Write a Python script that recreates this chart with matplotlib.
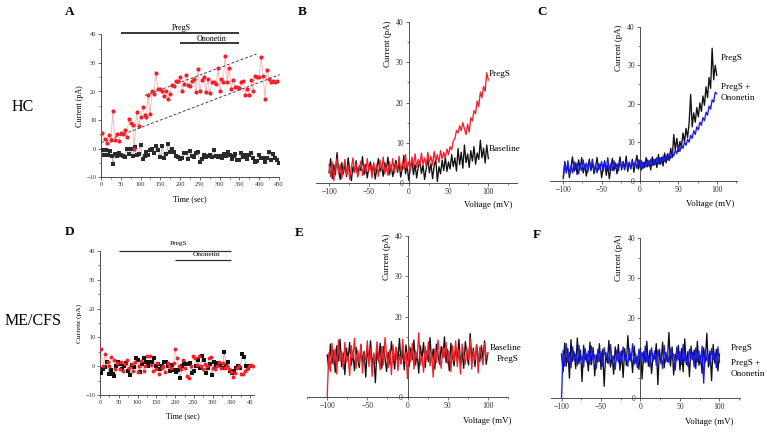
import numpy as np
import matplotlib
matplotlib.use("Agg")
import matplotlib.pyplot as plt
from matplotlib.ticker import MultipleLocator, FixedLocator

plt.rcParams['font.family'] = ['Liberation Serif', 'DejaVu Serif']

# ---------------- data ----------------
# Panel A (HC) time course
a_red_t = [3, 10, 15, 20, 25, 30, 35, 40, 45, 51, 55, 60, 65, 70, 75, 80, 84, 90, 95, 100,
           105, 110, 115, 119, 124, 129, 134, 139, 144, 149, 154, 159, 164, 169, 174, 179,
           184, 190, 195, 200, 205, 210, 215, 220, 225, 230, 235, 240, 245, 250, 255, 260,
           265, 270, 275, 281, 286, 291, 296, 301, 304, 309, 314, 319, 324, 329, 334, 339,
           345, 350, 355, 360, 365, 370, 375, 380, 385, 390, 395, 400, 405, 410, 415, 420,
           425, 430, 435, 440, 445]
a_red_i = [5.6, 3.3, 2.1, 4.7, 3.0, 13.2, 3.0, 5.0, 2.6, 5.4, 5.0, 6.6, 4.2, 10.3, 8.9, 8.4,
           -0.2, 13.0, 8.1, 11.0, 14.6, 11.7, 11.0, 18.7, 12.0, 20.1, 19.0, 26.6, 20.9, 21.0,
           20.0, 18.6, 20.3, 17.4, 19.1, 22.2, 22.0, 23.7, 23.5, 25.1, 20.3, 22.5, 25.9, 22.2,
           21.9, 23.8, 24.4, 19.7, 27.9, 20.0, 24.0, 25.2, 19.8, 24.4, 19.4, 23.3, 23.2, 22.6,
           28.1, 20.1, 24.3, 23.2, 32.5, 23.2, 28.3, 20.8, 24.0, 21.5, 21.5, 21.1, 23.3, 23.8,
           18.8, 21.0, 18.8, 23.9, 20.0, 25.4, 25.2, 25.2, 32.2, 25.4, 17.3, 27.5, 24.4, 23.3,
           23.6, 23.2, 23.8]
a_blk_t = [3, 8, 13, 18, 23, 28, 30, 35, 40, 45, 50, 55, 60, 65, 70, 75, 80, 85, 90, 95, 100,
           105, 110, 115, 120, 125, 130, 135, 140, 145, 150, 155, 160, 165, 170, 175, 180, 185,
           190, 195, 200, 205, 210, 215, 220, 225, 230, 235, 240, 245, 250, 255, 260, 265, 270,
           275, 280, 285, 290, 295, 300, 305, 310, 315, 320, 325, 330, 335, 340, 345, 350, 355,
           360, 365, 370, 375, 380, 385, 390, 395, 400, 405, 410, 415, 420, 425, 430, 435, 440,
           445, 450]
a_blk_i = [-0.3, -2.2, -0.5, -2.2, -0.8, -2.4, -5.4, -1.9, -2.5, -1.6, -2.2, -2.7, -3.0, 0.0,
           -1.8, 0.0, -2.5, 0.5, -2.2, -1.7, 1.2, -3.5, -2.7, -1.2, -2.2, -0.5, 0.0, -1.5, 0.9,
           -0.5, -2.8, 1.0, -3.2, -2.0, 1.6, -1.3, 0.0, -1.0, -2.5, -3.0, -3.5, -3.2, -1.5, -1.4,
           -3.6, -0.8, -2.4, -2.8, -1.6, -1.2, -4.8, -3.6, -2.2, -3.0, -2.5, -2.2, -3.0, -0.3,
           -2.5, -2.8, -2.6, -3.3, -1.9, -2.4, -1.0, -2.2, -3.6, -2.6, -1.8, -3.8, -3.9, -1.4,
           -3.0, -2.2, -3.5, -2.2, -1.5, -3.3, -4.5, -4.3, -2.1, -3.4, -3.1, -4.5, -3.4, -1.1,
           -4.1, -1.8, -3.2, -4.0, -5.0]
a_trend_upper_t = [111, 393]
a_trend_upper_i = [18.6, 33.1]
a_trend_lower_t = [0, 452]
a_trend_lower_i = [2.1, 25.9]

# Panel D (ME/CFS) time course
d_red_t = [3, 9, 14, 20, 25, 29, 36, 41, 46, 52, 57, 62, 67, 73, 78, 84, 89, 94, 100, 105,
           110, 116, 121, 126, 132, 137, 142, 148, 153, 158, 164, 169, 174, 180, 185, 190,
           196, 199, 204, 210, 215, 220, 226, 231, 236, 242, 247, 252, 258, 263, 268, 274,
           279, 284, 290, 295, 300, 306, 311, 316, 322, 327, 332, 338, 343, 348, 354, 359,
           364, 370, 375, 380, 386, 391, 396, 402, 407]
d_red_i = [5.8, -0.1, 4.4, 1.3, -0.1, 3.2, 2.2, -0.9, 1.0, -1.0, 1.6, -1.5, 0.7, 2.2, -0.6,
           0.8, -1.6, 1.3, -1.9, -0.1, 1.7, -1.7, 0.2, 3.4, 3.6, 0.3, -1.5, -0.8, 1.2, -2.7,
           -0.7, 0.1, -1.9, 1.0, -0.1, -0.7, 1.0, 5.8, 2.9, -0.1, -1.0, 2.2, -0.7, -3.4, -4.2,
           -0.1, 3.4, 2.7, 0.5, 3.4, -0.1, -1.0, 0.8, -0.1, 2.9, 3.1, -0.7, -1.0, -0.1, 1.3,
           -0.5, 1.0, -0.7, -0.1, -1.0, -1.9, -3.6, -2.2, -0.7, 0.1, -2.7, -2.7, -1.5, -1.0,
           -0.1, 0.5, 0.1]
d_blk_t = [3, 7, 12, 18, 23, 28, 34, 37, 43, 48, 53, 59, 64, 69, 75, 80, 85, 91, 96, 101,
           107, 112, 117, 123, 128, 133, 139, 144, 149, 155, 160, 165, 171, 176, 181, 187,
           192, 197, 203, 208, 213, 219, 224, 229, 234, 240, 245, 250, 256, 261, 267, 272,
           277, 283, 288, 293, 299, 304, 309, 315, 320, 325, 331, 336, 341, 347, 352, 357,
           363, 368, 373, 379, 384, 389, 395, 400]
d_blk_i = [-2.4, -1.0, -0.3, 1.6, -2.7, -1.3, -2.7, -3.4, -0.1, 1.5, 0.8, -0.8, -0.1, 1.0,
           -1.5, -3.0, 0.3, -0.3, 2.9, 2.2, -1.9, 0.6, 2.8, 1.3, -0.1, 1.6, 1.3, 2.9, -0.1,
           0.6, -1.0, -0.1, 1.3, 1.3, -0.1, -1.5, 0.3, -1.3, -2.0, -1.3, -4.2, -0.1, 1.0, 0.8,
           0.6, 1.0, -2.2, -1.5, -0.1, 2.2, -0.7, 3.4, 2.2, -2.4, -0.7, 0.6, -3.0, 1.6, -0.1,
           1.0, 0.3, -0.7, 5.0, -0.1, 1.6, -1.5, -2.2, -1.5, -0.7, -0.1, -0.7, 4.3, 3.1, -0.1,
           -0.7, -0.1]

# Drug application bars (start, end) in seconds
pregs_bar = [50, 350]
ononetin_bar = [200, 350]

# I-V traces, voltage ramp -100..100 mV
b_baseline = [2.5, 6.0, 1.0, 4.5, 2.0, 7.5, 3.0, 0.8, 5.0, 2.2, 4.8, 1.5, 6.2, 3.0, 0.5, 4.0,
              2.5, 5.5, 1.8, 4.2, 3.0, 6.5, 2.0, 4.5, 1.2, 3.8, 5.2, 2.4, 4.6, 0.9, 3.5, 6.0,
              2.8, 4.2, 1.6, 5.0, 3.2, 6.4, 2.0, 4.4, 1.5, 3.8, 5.6, 2.6, 4.9, 1.4, 3.6, 6.8,
              2.2, 4.5, 0.6, 3.4, 5.8, 2.0, 4.6, 1.2, 3.9, 5.4, 2.3, 4.4, 0.8, 3.5, 5.9, 2.5,
              4.8, 1.0, 4.2, 6.0, 0.3, 4.0, 2.2, 5.6, 3.0, 6.4, 2.8, 5.2, 3.4, 7.0, 4.0, 6.2,
              2.9, 8.5, 4.5, 7.6, 3.6, 9.4, 5.0, 7.2, 3.8, 8.0, 5.4, 9.0, 4.6, 7.4, 5.8, 10.6,
              6.2, 8.6, 4.9, 9.4, 6.0]
b_pregs = [4.5, 1.5, 5.2, 0.5, 3.8, 6.0, 2.2, 4.6, 1.0, 3.4, 5.8, 2.0, 4.4, 0.8, 3.6, 6.2,
           2.6, 4.8, 1.4, 3.2, 5.4, 1.8, 4.6, 2.4, 6.0, 3.0, 4.2, 1.2, 5.0, 2.8, 4.6, 1.6,
           5.6, 3.2, 6.4, 2.2, 4.0, 1.8, 5.2, 3.0, 6.0, 2.4, 4.8, 3.2, 6.6, 2.8, 5.0, 3.4,
           7.0, 3.6, 5.2, 3.0, 6.4, 4.0, 7.2, 3.8, 5.8, 4.2, 7.4, 4.6, 6.2, 4.0, 7.6, 5.0,
           6.6, 4.4, 7.8, 5.4, 7.0, 5.0, 8.0, 6.0, 7.6, 6.2, 8.4, 7.0, 9.0, 8.2, 10.4, 11.0,
           13.0, 12.4, 14.2, 13.0, 15.0, 13.4, 12.0, 14.6, 12.6, 16.2, 15.4, 18.0, 17.2, 20.4,
           19.0, 22.6, 21.2, 24.0, 22.8, 27.4, 25.6]
c_pregs = [1.0, 5.0, 2.0, 4.4, 0.8, 3.6, 6.2, 2.4, 4.6, 1.6, 5.4, 3.0, 6.0, 2.0, 4.2, 1.2,
           3.8, 5.6, 2.6, 4.8, 1.8, 3.4, 6.0, 2.8, 4.4, 0.8, 3.6, 5.2, 1.4, 4.0, 0.5, 3.2,
           5.8, 2.6, 4.6, 1.8, 4.0, 6.2, 2.8, 5.0, 3.0, 6.4, 2.4, 4.8, 3.2, 5.6, 2.2, 4.6,
           6.6, 3.0, 5.4, 2.8, 4.8, 3.4, 6.0, 3.6, 5.2, 2.8, 6.2, 4.0, 5.6, 3.4, 6.8, 4.2,
           6.0, 3.8, 7.2, 4.6, 7.0, 5.2, 8.4, 6.0, 12.0, 8.0, 11.0, 7.6, 10.2, 8.6, 12.4,
           10.0, 13.6, 11.2, 15.0, 22.4, 14.0, 17.6, 15.2, 19.0, 16.6, 20.2, 18.0, 22.0,
           19.6, 24.4, 21.6, 26.8, 24.0, 34.4, 26.2, 30.0, 27.4]
c_pregs_ononetin = [0.5, 4.4, 2.2, 5.2, 1.6, 3.8, 2.0, 5.0, 2.8, 4.6, 1.8, 4.0, 2.6, 5.4,
                    3.0, 4.6, 2.2, 4.8, 3.2, 5.6, 2.6, 4.2, 2.0, 4.4, 3.0, 5.0, 2.4, 4.6,
                    3.0, 6.0, 2.8, 4.4, 2.6, 5.2, 3.2, 4.4, 2.6, 5.0, 3.4, 4.6, 2.8, 5.0,
                    3.4, 4.8, 3.0, 5.2, 3.6, 5.0, 3.2, 5.4, 3.4, 5.2, 3.2, 4.8, 3.6, 5.4,
                    3.8, 5.6, 4.0, 5.6, 4.2, 6.0, 4.4, 6.0, 4.6, 6.4, 5.0, 6.6, 5.4, 7.0,
                    5.8, 7.4, 6.4, 8.0, 7.0, 8.6, 7.6, 9.2, 8.4, 10.0, 9.2, 10.8, 10.0, 11.8,
                    11.0, 13.0, 12.0, 14.0, 13.2, 15.2, 14.4, 16.4, 15.6, 17.8, 17.0, 19.4,
                    18.6, 21.0, 20.4, 23.0, 22.6]
e_baseline = [10.5, 7.0, 13.2, 8.4, 11.6, 6.2, 12.8, 9.0, 14.4, 7.6, 11.0, 5.6, 12.2, 9.4,
              13.6, 8.0, 10.8, 6.6, 12.4, 9.6, 7.4, 13.0, 8.6, 11.4, 5.0, 12.0, 9.2, 14.0,
              7.8, 10.6, 3.6, 11.8, 8.8, 13.4, 7.2, 12.6, 9.8, 6.4, 11.2, 8.2, 13.8, 10.2,
              7.0, 12.4, 9.0, 14.6, 8.4, 11.6, 6.8, 13.0, 10.0, 7.6, 12.2, 9.4, 14.2, 8.0,
              11.0, 6.0, 12.8, 9.6, 13.6, 7.4, 11.4, 8.8, 14.8, 9.2, 12.0, 7.0, 13.2, 10.4,
              8.2, 12.6, 9.8, 15.0, 8.6, 11.8, 6.6, 13.4, 10.2, 7.8, 12.4, 9.0, 14.4, 8.4,
              11.2, 7.2, 13.8, 10.6, 8.0, 15.8, 9.4, 12.2, 7.6, 13.0, 10.0, 8.8, 12.8, 9.6,
              14.0, 8.2, 11.0]
e_pregs = [0.0, 11.0, 6.4, 13.4, 8.2, 12.0, 5.8, 14.2, 9.0, 11.4, 7.0, 13.6, 8.8, 10.2, 5.4,
           12.8, 9.6, 14.6, 7.2, 11.6, 8.4, 13.2, 6.0, 10.8, 9.4, 14.0, 7.6, 12.2, 5.2, 11.0,
           8.6, 13.8, 9.8, 6.8, 12.6, 8.0, 14.8, 10.4, 7.4, 11.8, 5.6, 13.0, 9.2, 12.4, 6.6,
           10.6, 8.2, 14.4, 9.0, 11.2, 4.6, 12.8, 8.8, 13.4, 7.0, 11.6, 9.6, 16.0, 8.0, 10.2,
           6.2, 12.6, 9.4, 13.8, 7.8, 11.0, 5.0, 12.0, 8.6, 14.2, 9.8, 7.2, 12.4, 10.0, 13.6,
           8.4, 11.4, 6.4, 12.8, 9.0, 14.0, 7.6, 11.8, 5.8, 13.2, 10.6, 8.2, 12.2, 9.4, 14.6,
           7.0, 11.6, 9.2, 13.0, 6.0, 12.4, 10.2, 8.0, 13.4, 9.6, 11.0]
f_pregs = [11.0, 6.6, 13.8, 8.0, 12.4, 5.0, 14.6, 9.2, 11.6, 7.4, 15.0, 8.6, 12.0, 4.2, 13.2,
           9.6, 11.0, 6.8, 14.0, 8.4, 12.6, 5.6, 10.8, 9.0, 13.6, 7.2, 12.2, 3.0, 11.4, 8.8,
           14.4, 7.8, 10.6, 6.0, 12.8, 9.4, 13.4, 7.0, 11.8, 5.2, 12.4, 8.2, 15.6, 9.6, 11.2,
           6.4, 13.0, 8.8, 10.4, 7.2, 12.6, 4.8, 11.6, 9.0, 14.2, 8.0, 12.0, 6.2, 10.8, 9.8,
           13.6, 3.4, 12.2, 8.6, 14.0, 7.6, 11.4, 9.2, 16.4, 8.0, 12.8, 5.8, 11.0, 9.4, 13.2,
           7.0, 12.4, 6.6, 14.8, 8.4, 11.6, 5.4, 13.0, 9.6, 12.0, 7.4, 14.2, 8.2, 10.6, 6.2,
           12.6, 9.0, 16.2, 7.8, 11.8, 4.4, 13.4, 8.8, 12.2, 6.8, 11.0]
f_pregs_ononetin = [0.0, 12.0, 8.0, 13.6, 9.0, 11.4, 7.6, 12.8, 9.6, 11.0, 8.2, 13.2, 9.4,
                    10.6, 7.8, 12.4, 9.0, 11.8, 8.4, 13.0, 9.8, 10.8, 7.4, 12.2, 9.2, 11.6,
                    8.0, 12.6, 10.0, 11.2, 8.6, 13.4, 9.4, 10.4, 7.2, 12.0, 9.0, 11.6, 8.8,
                    12.8, 9.6, 10.2, 8.0, 12.4, 9.2, 13.6, 8.4, 11.0, 7.6, 12.2, 10.0, 11.4,
                    8.6, 13.0, 9.0, 10.6, 7.8, 12.6, 9.4, 11.8, 8.2, 12.0, 9.8, 10.8, 7.4,
                    13.2, 9.0, 11.2, 8.8, 12.4, 10.2, 11.0, 7.0, 12.8, 9.6, 11.6, 8.4, 13.4,
                    9.2, 10.4, 8.0, 12.2, 9.8, 11.4, 7.8, 12.6, 9.0, 11.8, 8.6, 13.0, 3.8,
                    12.0, 9.4, 10.8, 8.2, 12.4, 9.6, 11.2, 7.6, 12.8, 9.0]

time_ticks = [0, 50, 100, 150, 200, 250, 300, 350, 400, 450]
d_time_labels = ["0", "50", "100", "150", "200", "250", "300", "350", "40"]
current_ticks = [-10, 0, 10, 20, 30, 40]
iv_x_ticks = [-100, -50, 0, 50, 100]
iv_y_ticks = [0, 10, 20, 30, 40]

# ---------------- layout helpers ----------------
W, H = 767, 432
fig = plt.figure(figsize=(W / 100, H / 100), dpi=100)


def add_ax(left, top, right, bottom):
    return fig.add_axes([left / W, 1 - bottom / H, (right - left) / W, (bottom - top) / H])


def ftext(x, y, s, **kw):
    fig.text(x / W, 1 - y / H, s, **kw)


RED = '#f2202a'
BLUE = '#1a1aee'
BLK = '#111111'
TICK_FS = 4.6
IV_TICK_FS = 5.6
LAB_FS = 5.8
IV_LAB_FS = 6.4
TRACE_LW = 0.95


def style_time_ax(ax, xlim, ticks, labels=None):
    ax.set_xlim(*xlim)
    ax.set_ylim(-10, 40)
    for s in ['top', 'right']:
        ax.spines[s].set_visible(False)
    for s in ['left', 'bottom']:
        ax.spines[s].set_linewidth(0.6)
        ax.spines[s].set_color('#333333')
    ax.xaxis.set_major_locator(FixedLocator(ticks))
    if labels is not None:
        ax.set_xticklabels(labels)
    ax.xaxis.set_minor_locator(MultipleLocator(25))
    ax.yaxis.set_major_locator(FixedLocator(current_ticks))
    ax.yaxis.set_minor_locator(MultipleLocator(5))
    ax.tick_params(which='major', length=2.2, width=0.5, labelsize=TICK_FS, pad=1.2, colors='#333333')
    ax.tick_params(which='minor', length=1.2, width=0.4, colors='#333333')
    ax.patch.set_alpha(0)


def style_iv_ax(ax, xlim):
    ax.set_xlim(*xlim)
    ax.set_ylim(0, 40)
    for s in ['top', 'right']:
        ax.spines[s].set_visible(False)
    ax.spines['left'].set_position(('data', 0))
    ax.spines['bottom'].set_position(('data', 0))
    for s in ['left', 'bottom']:
        ax.spines[s].set_linewidth(0.6)
        ax.spines[s].set_color('#333333')
    ax.xaxis.set_major_locator(FixedLocator(iv_x_ticks))
    ax.xaxis.set_minor_locator(MultipleLocator(25))
    ax.yaxis.set_major_locator(FixedLocator(iv_y_ticks))
    ax.yaxis.set_minor_locator(MultipleLocator(5))
    ax.tick_params(which='major', length=2.2, width=0.5, labelsize=IV_TICK_FS, pad=1.5, colors='#333333')
    ax.tick_params(which='minor', length=1.2, width=0.4, colors='#333333')
    ax.patch.set_alpha(0)


def volt(values):
    return np.linspace(-100, 100, len(values))


# ---------------- Panel A ----------------
axA = add_ax(101, 34.3, 279, 177.3)
style_time_ax(axA, (0, 450), time_ticks)
axA.plot(a_blk_t, a_blk_i, '-', color='#9a9a9a', lw=0.45, zorder=2)
axA.plot(a_blk_t, a_blk_i, 's', color='#2a2a2a', ms=2.6, mew=0, zorder=3)
axA.plot(a_red_t, a_red_i, '-', color='#f4a6a6', lw=0.5, zorder=2)
axA.plot(a_red_t, a_red_i, 'o', color=RED, ms=3.0, mew=0, zorder=4)
axA.plot(a_trend_upper_t, a_trend_upper_i, '--', color='#444444', lw=0.7, dashes=(3, 2), clip_on=False)
axA.plot(a_trend_lower_t, a_trend_lower_i, '--', color='#444444', lw=0.7, dashes=(3, 2), clip_on=False)
axA.plot(pregs_bar, [40.3, 40.3], color='k', lw=1.1, clip_on=False, solid_capstyle='butt')
axA.plot(ononetin_bar, [36.8, 36.8], color='k', lw=1.1, clip_on=False, solid_capstyle='butt')
ftext(181.7, 28.3, 'PregS', fontsize=5.8, ha='center', va='center')
ftext(211, 39.3, 'Ononetin', fontsize=5.8, ha='center', va='center')
ftext(80, 106, 'Current (pA)', fontsize=LAB_FS, rotation=90, ha='center', va='center')
ftext(190, 199, 'Time (sec)', fontsize=LAB_FS, ha='center', va='center')

# ---------------- Panel D ----------------
axD = add_ax(100, 251, 254, 395)
style_time_ax(axD, (0, 410), time_ticks[:-1], d_time_labels)
axD.plot(d_blk_t, d_blk_i, '-', color='#9a9a9a', lw=0.45, zorder=2)
axD.plot(d_red_t, d_red_i, '-', color='#f4a6a6', lw=0.45, zorder=2)
axD.plot(d_blk_t, d_blk_i, 's', color='#111111', ms=2.5, mew=0, zorder=3)
axD.plot(d_red_t, d_red_i, 'o', color=RED, ms=2.8, mew=0, zorder=4)
axD.plot(pregs_bar, [40.1, 40.1], color='#333333', lw=0.9, clip_on=False, solid_capstyle='butt')
axD.plot(ononetin_bar, [36.9, 36.9], color='#333333', lw=0.9, clip_on=False, solid_capstyle='butt')
ftext(178.3, 244, 'PregS', fontsize=5.3, ha='center', va='center')
ftext(206.7, 255, 'Ononetin', fontsize=5.3, ha='center', va='center')
ftext(79.3, 323.3, 'Current (pA)', fontsize=LAB_FS - 0.4, rotation=90, ha='center', va='center')
ftext(183.3, 416, 'Time (sec)', fontsize=LAB_FS, ha='center', va='center')

# ---------------- Panel B ----------------
axB = add_ax(315.5, 22.3, 517, 182.7)
style_iv_ax(axB, (-117, 136))
axB.plot(volt(b_baseline), b_baseline, color=BLK, lw=TRACE_LW, zorder=2)
axB.plot(volt(b_pregs), b_pregs, color=RED, lw=TRACE_LW, zorder=3)
ftext(489, 74, 'PregS', fontsize=6.6, ha='left', va='center')
ftext(489, 149, 'Baseline', fontsize=6.6, ha='left', va='center')
ftext(388.3, 43.7, 'Current (pA)', fontsize=IV_LAB_FS, rotation=90, ha='center', va='center')
ftext(487.7, 205, 'Voltage (mV)', fontsize=IV_LAB_FS, ha='center', va='center')

# ---------------- Panel C ----------------
axC = add_ax(550, 26.7, 736.7, 180.7)
style_iv_ax(axC, (-117.3, 126))
axC.plot(volt(c_pregs), c_pregs, color=BLK, lw=TRACE_LW, zorder=2)
axC.plot(volt(c_pregs_ononetin), c_pregs_ononetin, color=BLUE, lw=TRACE_LW, zorder=3)
ftext(721, 58.3, 'PregS', fontsize=6.6, ha='left', va='center')
ftext(721, 87.3, 'PregS +', fontsize=6.6, ha='left', va='center')
ftext(721, 98.3, 'Ononetin', fontsize=6.6, ha='left', va='center')
ftext(619.3, 48, 'Current (pA)', fontsize=IV_LAB_FS, rotation=90, ha='center', va='center')
ftext(710, 204.3, 'Voltage (mV)', fontsize=IV_LAB_FS, ha='center', va='center')

# ---------------- Panel E ----------------
axE = add_ax(306.7, 236, 508.3, 397.3)
style_iv_ax(axE, (-125.5, 125.5))
axE.plot(volt(e_baseline), e_baseline, color=BLK, lw=TRACE_LW, zorder=2)
axE.plot(volt(e_pregs), e_pregs, color=RED, lw=TRACE_LW, zorder=3)
ftext(490, 348, 'Baseline', fontsize=6.6, ha='left', va='center')
ftext(496.7, 358.7, 'PregS', fontsize=6.6, ha='left', va='center')
ftext(386.7, 257, 'Current (pA)', fontsize=IV_LAB_FS, rotation=90, ha='center', va='center')
ftext(486.7, 421, 'Voltage (mV)', fontsize=IV_LAB_FS, ha='center', va='center')

# ---------------- Panel F ----------------
axF = add_ax(550.7, 237.7, 740, 398.3)
style_iv_ax(axF, (-113.7, 126))
axF.plot(volt(f_pregs), f_pregs, color=BLK, lw=TRACE_LW, zorder=2)
axF.plot(volt(f_pregs_ononetin), f_pregs_ononetin, color=BLUE, lw=TRACE_LW, zorder=3)
ftext(730.7, 347.7, 'PregS', fontsize=6.6, ha='left', va='center')
ftext(730.7, 362.7, 'PregS +', fontsize=6.6, ha='left', va='center')
ftext(731, 374.3, 'Ononetin', fontsize=6.6, ha='left', va='center')
ftext(619.3, 258, 'Current (pA)', fontsize=IV_LAB_FS, rotation=90, ha='center', va='center')
ftext(709.3, 422.3, 'Voltage (mV)', fontsize=IV_LAB_FS, ha='center', va='center')

# ---------------- panel letters & row labels ----------------
for (x, y, s) in [(70, 12, 'A'), (301.7, 11.7, 'B'), (541.7, 11.7, 'C'),
                  (70, 231.7, 'D'), (299.3, 233.3, 'E'), (536.7, 235, 'F')]:
    ftext(x, y, s, fontsize=9.5, fontweight='bold', ha='center', va='center')
ftext(22.7, 107, 'HC', fontsize=11.5, ha='center', va='center')
ftext(33, 321, 'ME/CFS', fontsize=11.5, ha='center', va='center')

fig.savefig('out.png', dpi=100)
